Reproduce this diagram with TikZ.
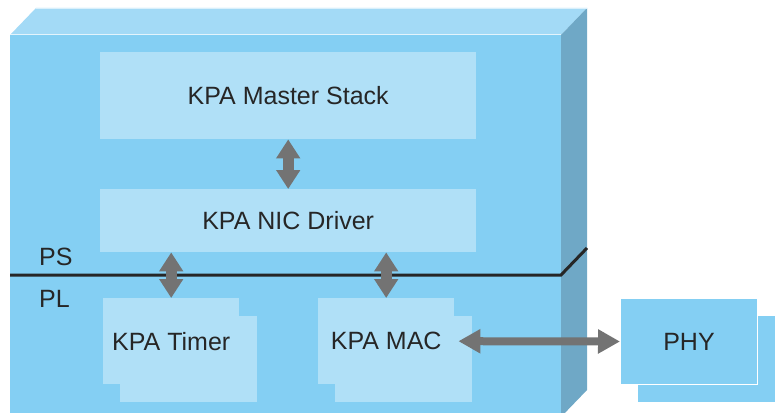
\documentclass[tikz,border=0pt]{standalone}
\usepackage{fontspec}
\setmainfont{Liberation Sans}
\usetikzlibrary{arrows.meta}
\definecolor{frontc}{HTML}{84CFF3}
\definecolor{topc}{HTML}{A3DAF6}
\definecolor{sidec}{HTML}{6FA8C6}
\definecolor{innerc}{HTML}{B0E0F7}
\definecolor{txtc}{HTML}{262626}
\definecolor{arrowc}{HTML}{737373}
\begin{document}
\begin{tikzpicture}[x=1pt,y=-1pt,
  lbl/.style={font=\fontsize{25}{29}\selectfont, text=txtc},
  box/.style={fill=innerc, draw=none, inner sep=0pt, anchor=north west, lbl},
  shbox/.style={fill=innerc, draw=none, inner sep=0pt, anchor=north west, minimum width=137pt, minimum height=86pt},
  phybox/.style={fill=frontc, draw=white, line width=1pt, inner sep=0pt, anchor=north west, minimum width=137pt, minimum height=86pt, lbl},
  varrow/.style={draw=arrowc, line width=11pt, {Triangle[width=23pt,length=19pt]}-{Triangle[width=23pt,length=19pt]}},
  harrow/.style={draw=arrowc, line width=8pt, {Triangle[width=23pt,length=22pt]}-{Triangle[width=23pt,length=22pt]}}
]
\useasboundingbox (0,0) rectangle (781,412);
% 3D block
\fill[frontc] (10,35) rectangle (561,417);
\fill[topc] (10,35) -- (36,8) -- (587,8) -- (561,35) -- cycle;
\fill[sidec] (561,35) -- (587,8) -- (587,390) -- (561,417) -- cycle;
\draw[white!70!topc, line width=1pt] (10,35) -- (561,35);
\draw[white!60!topc, line width=0.8pt] (36,8.5) -- (587,8.5);
% PS / PL divider
\draw[txtc, line width=3pt] (10,275) -- (561,275) -- (587,248);
\node[lbl, anchor=base west, inner sep=0pt] (ps) at (39,265) {PS};
\node[lbl, anchor=base west, inner sep=0pt] (pl) at (39,307) {PL};
% PS boxes
\node[box, minimum width=376pt, minimum height=87pt] (master) at (100,52) {KPA Master Stack};
\node[box, minimum width=376pt, minimum height=63pt] (nic) at (100,189) {KPA NIC Driver};
% PL boxes
\node[shbox] (timersh) at (120,316) {};
\node[shbox] (macsh) at (335,316) {};
\node[box, minimum width=136pt, minimum height=86pt] (timer) at (103,298) {KPA Timer};
\node[box, minimum width=136pt, minimum height=86pt] (mac) at (318,298) {KPA MAC};
% PHY
\node[phybox, draw=none] (physh) at (637,315) {};
\node[phybox] (phy) at (620,298) {PHY};
% arrows
\draw[varrow] (master.south) -- (nic.north);
\draw[varrow] (nic.south -| timer.north) -- (timer.north);
\draw[varrow] (nic.south -| mac.north) -- (mac.north);
\draw[harrow] ([xshift=4pt]mac.east) -- (phy.west);
\end{tikzpicture}
\end{document}
